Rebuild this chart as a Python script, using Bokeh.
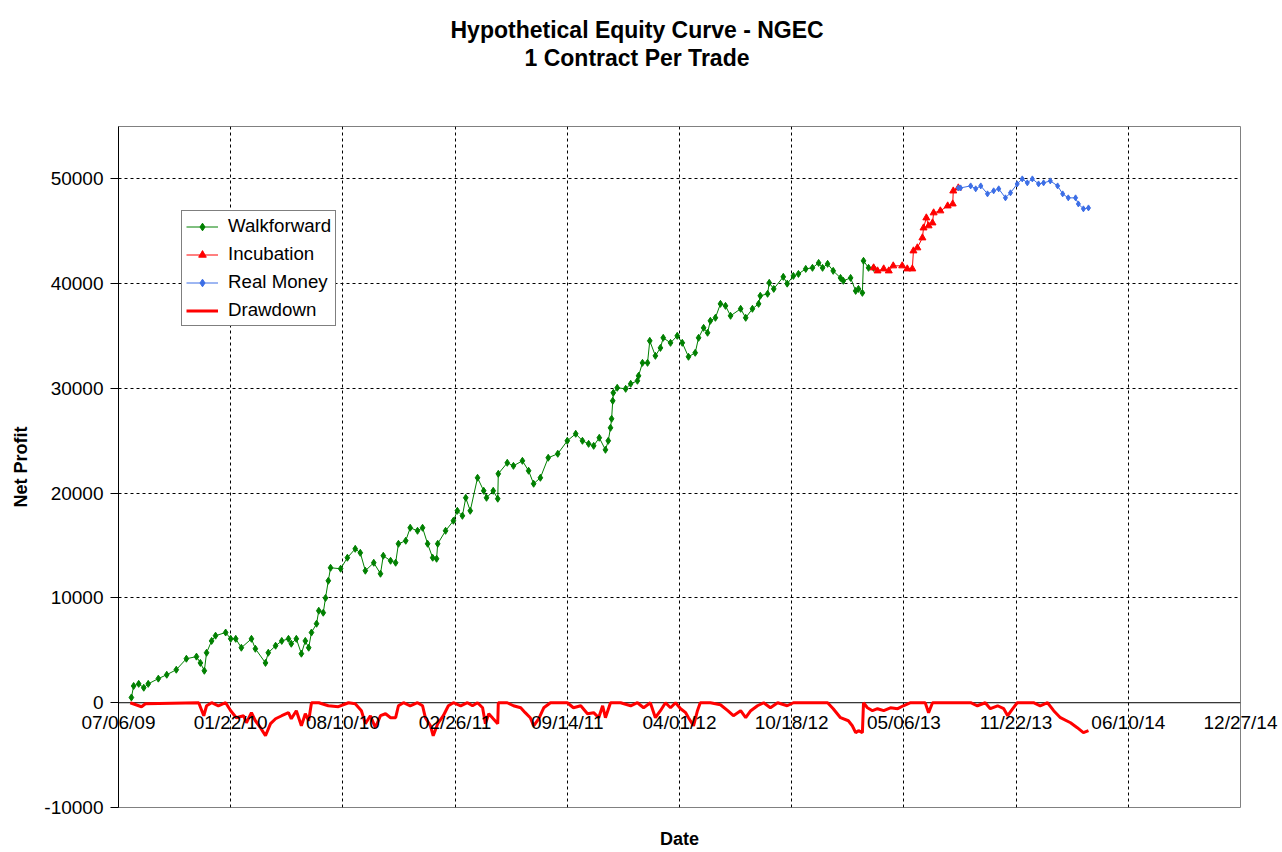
import pandas as pd
from bokeh.plotting import figure
from bokeh.models import (Range1d, FixedTicker, Span, Legend, LegendItem, Title,
                          LinearAxis, BasicTickFormatter, Grid)
from bokeh.embed import file_html
from bokeh.resources import INLINE

FONT = "Liberation Sans"

# ---------------- data ----------------
wf_dates = ["2009-07-29", "2009-08-02", "2009-08-11", "2009-08-20", "2009-08-28", "2009-09-15",
            "2009-09-30", "2009-10-17", "2009-11-04", "2009-11-22", "2009-11-29", "2009-12-06",
            "2009-12-10", "2009-12-19", "2009-12-26", "2010-01-13", "2010-01-22", "2010-01-31",
            "2010-02-10", "2010-02-28", "2010-03-07", "2010-03-25", "2010-03-30", "2010-04-12",
            "2010-04-23", "2010-05-05", "2010-05-10", "2010-05-19", "2010-05-28", "2010-06-04",
            "2010-06-10", "2010-06-15", "2010-06-24", "2010-06-28", "2010-07-06", "2010-07-10",
            "2010-07-15", "2010-07-19", "2010-08-06", "2010-08-18", "2010-09-01", "2010-09-10",
            "2010-09-19", "2010-10-04", "2010-10-16", "2010-10-21", "2010-11-03", "2010-11-12",
            "2010-11-17", "2010-11-30", "2010-12-08", "2010-12-21", "2010-12-30", "2011-01-08",
            "2011-01-17", "2011-01-24", "2011-01-26", "2011-02-09", "2011-02-23", "2011-03-02",
            "2011-03-11", "2011-03-17", "2011-03-25", "2011-04-07", "2011-04-18", "2011-04-23",
            "2011-05-05", "2011-05-13", "2011-05-14", "2011-05-30", "2011-06-10", "2011-06-26",
            "2011-07-07", "2011-07-16", "2011-07-28", "2011-08-11", "2011-08-28", "2011-09-14",
            "2011-09-29", "2011-10-11", "2011-10-22", "2011-10-31", "2011-11-10", "2011-11-21",
            "2011-11-26", "2011-11-30", "2011-12-02", "2011-12-04", "2011-12-05", "2011-12-12",
            "2011-12-27", "2012-01-05", "2012-01-17", "2012-01-19", "2012-01-26", "2012-02-04",
            "2012-02-08", "2012-02-18", "2012-02-27", "2012-03-03", "2012-03-16", "2012-03-28",
            "2012-04-06", "2012-04-17", "2012-04-29", "2012-05-05", "2012-05-14", "2012-05-21",
            "2012-05-26", "2012-06-04", "2012-06-13", "2012-06-22", "2012-07-01", "2012-07-19",
            "2012-07-28", "2012-08-09", "2012-08-20", "2012-08-23", "2012-09-05", "2012-09-08",
            "2012-09-16", "2012-10-03", "2012-10-10", "2012-10-21", "2012-10-30", "2012-11-12",
            "2012-11-24", "2012-12-05", "2012-12-12", "2012-12-21", "2012-12-31", "2013-01-13",
            "2013-01-18", "2013-01-31", "2013-02-09", "2013-02-14", "2013-02-21", "2013-02-23",
            "2013-03-04", "2013-03-13"]
wf_values = [500, 1600, 1800, 1430, 1800, 2300,
             2670, 3150, 4200, 4400, 3800, 3050,
             4770, 5900, 6400, 6700, 6100, 6100,
             5250, 6100, 5150, 3800, 4770, 5440,
             5900, 6100, 5630, 6100, 4680, 5900,
             5250, 6700, 7540, 8780, 8590, 10000,
             11640, 12880, 12790, 13840, 14690, 14310,
             12600, 13360, 12310, 14030, 13550, 13360,
             15170, 15460, 16700, 16410, 16700, 15170,
             13840, 13740, 15170, 16410, 17370, 18320,
             17840, 19560, 18320, 21470, 20230, 19560,
             20230, 19470, 21850, 22900, 22610, 23090,
             22140, 20900, 21470, 23380, 23760, 25000,
             25670, 25000, 24710, 24520, 25290, 24140,
             25000, 26240, 27100, 28820, 29580, 30060,
             29960, 30440, 30730, 31200, 32440, 32440,
             34540, 33110, 33870, 34830, 34350, 35020,
             34350, 33020, 33400, 34830, 35780, 35310,
             36450, 36740, 38070, 37880, 36930, 37600,
             36740, 37600, 38070, 38840, 39030, 40080,
             39500, 40650, 40000, 40740, 40930, 41410,
             41510, 41980, 41510, 41890, 41220, 40550,
             40270, 40550, 39310, 39500, 39120, 42180,
             41510, 41510]

inc_dates = ["2013-03-13", "2013-03-20", "2013-03-31", "2013-04-09", "2013-04-17", "2013-05-03",
             "2013-05-12", "2013-05-21", "2013-05-23", "2013-05-30", "2013-06-08", "2013-06-10",
             "2013-06-15", "2013-06-19", "2013-06-26", "2013-06-28", "2013-07-10", "2013-07-23",
             "2013-08-01", "2013-08-02", "2013-08-11"]
inc_values = [41510, 41220, 41410, 41220, 41700, 41700,
              41410, 41410, 43130, 43420, 44370, 45320,
              46280, 45520, 45800, 46760, 46950, 47420,
              47610, 48850, 49140]

rm_dates = ["2013-08-11", "2013-08-15", "2013-09-02", "2013-09-11", "2013-09-20", "2013-10-02",
            "2013-10-13", "2013-10-22", "2013-11-03", "2013-11-12", "2013-11-24", "2013-12-03",
            "2013-12-12", "2013-12-21", "2014-01-01", "2014-01-10", "2014-01-22", "2014-02-04",
            "2014-02-13", "2014-02-23", "2014-03-08", "2014-03-13", "2014-03-22", "2014-03-31"]
rm_values = [49140, 49140, 49330, 49050, 49330, 48570,
             48860, 49050, 48190, 48670, 49520, 50000,
             49620, 50000, 49520, 49620, 49810, 49330,
             48570, 48190, 48190, 47610, 47140, 47230]

dd_dates = ["2009-07-27", "2009-08-16", "2009-08-23", "2009-11-26", "2009-12-05", "2009-12-10",
            "2009-12-19", "2009-12-31", "2010-01-13", "2010-01-22", "2010-02-01", "2010-02-14",
            "2010-02-19", "2010-02-28", "2010-03-07", "2010-03-16", "2010-03-25", "2010-04-03",
            "2010-04-12", "2010-04-23", "2010-05-05", "2010-05-10", "2010-05-19", "2010-05-28",
            "2010-06-04", "2010-06-10", "2010-06-15", "2010-06-28", "2010-07-15", "2010-08-02",
            "2010-08-20", "2010-09-01", "2010-09-12", "2010-09-19", "2010-09-28", "2010-10-07",
            "2010-10-16", "2010-10-25", "2010-11-03", "2010-11-12", "2010-11-17", "2010-11-26",
            "2010-12-08", "2010-12-21", "2010-12-30", "2011-01-04", "2011-01-13", "2011-01-18",
            "2011-01-26", "2011-02-05", "2011-02-14", "2011-02-23", "2011-03-08", "2011-03-20",
            "2011-03-29", "2011-04-07", "2011-04-16", "2011-04-21", "2011-04-27", "2011-05-05",
            "2011-05-13", "2011-05-14", "2011-05-30", "2011-06-10", "2011-06-23", "2011-07-01",
            "2011-07-10", "2011-07-16", "2011-07-25", "2011-08-03", "2011-08-15", "2011-09-02",
            "2011-09-14", "2011-09-25", "2011-10-08", "2011-10-20", "2011-10-31", "2011-11-09",
            "2011-11-16", "2011-11-21", "2011-11-30", "2011-12-18", "2012-01-05", "2012-01-17",
            "2012-01-28", "2012-02-09", "2012-02-18", "2012-02-27", "2012-03-07", "2012-03-16",
            "2012-03-25", "2012-04-03", "2012-04-12", "2012-04-17", "2012-04-26", "2012-05-03",
            "2012-05-08", "2012-05-26", "2012-06-13", "2012-06-26", "2012-07-06", "2012-07-19",
            "2012-07-28", "2012-08-06", "2012-08-18", "2012-08-29", "2012-09-10", "2012-09-23",
            "2012-10-10", "2012-10-21", "2012-11-15", "2012-12-03", "2012-12-21", "2012-12-31",
            "2013-01-13", "2013-01-27", "2013-02-03", "2013-02-09", "2013-02-14", "2013-02-21",
            "2013-02-23", "2013-03-02", "2013-03-11", "2013-03-20", "2013-03-31", "2013-04-12",
            "2013-04-25", "2013-05-05", "2013-05-18", "2013-05-30", "2013-06-13", "2013-06-19",
            "2013-06-26", "2013-07-23", "2013-08-15", "2013-09-02", "2013-09-14", "2013-09-28",
            "2013-10-07", "2013-10-20", "2013-10-31", "2013-11-07", "2013-11-16", "2013-11-24",
            "2013-12-05", "2013-12-23", "2014-01-04", "2014-01-17", "2014-01-28", "2014-02-09",
            "2014-02-27", "2014-03-11", "2014-03-22", "2014-03-31"]
dd_values = [0, -380, -100, 0, -1240, -290,
             0, -290, 0, -760, -1430, -1240,
             -1910, -950, -1720, -2380, -3150, -2000,
             -1530, -1240, -950, -1530, -760, -2200,
             -1050, -1720, 0, 0, -290, -380,
             0, -100, -760, -2000, -1240, -2380,
             -1240, -1050, -1430, -1430, -290, 0,
             -290, 0, -290, -1430, -2200, -3150,
             -2000, -1240, -290, 0, -290, 0,
             -290, 0, -480, -2000, -1050, -1530,
             -2000, 0, 0, -290, -480, -950,
             -1430, -2200, -1530, -480, 0, 0,
             0, -480, -290, -1050, -950, -1430,
             -290, -1430, 0, 0, -290, 0,
             -480, 0, -1430, -760, 0, -480,
             0, -570, -950, -1430, -2200, -760,
             0, 0, -190, -760, -1240, -760,
             -1430, -760, -290, 0, -480, 0,
             -290, 0, 0, 0, 0, -570,
             -1430, -1720, -2200, -2860, -2670, -2860,
             0, -480, -760, -570, -760, -480,
             -570, -290, 0, 0, 0, -950,
             0, 0, 0, 0, -290, 0,
             -570, -290, -570, -1240, -570, 0,
             0, 0, -290, 0, -760, -1430,
             -1910, -2380, -2860, -2670]

tick_dates = ["2009-07-06", "2010-01-22", "2010-08-10", "2011-02-26", "2011-09-14", "2012-04-01",
              "2012-10-18", "2013-05-06", "2013-11-22", "2014-06-10", "2014-12-27"]
tick_labels = ["07/06/09", "01/22/10", "08/10/10", "02/26/11", "09/14/11", "04/01/12",
               "10/18/12", "05/06/13", "11/22/13", "06/10/14", "12/27/14"]
y_ticks = [-10000, 0, 10000, 20000, 30000, 40000, 50000]
y_tick_labels = ["-10000", "0", "10000", "20000", "30000", "40000", "50000"]
y_grid_ticks = [10000, 20000, 30000, 40000, 50000]

# ---------------- figure ----------------
tick_dt = pd.to_datetime(tick_dates)
tick_ms = [t.value // 10**6 for t in tick_dt]

p = figure(width=1282, height=852, x_axis_type="datetime", x_axis_location=None,
           x_range=Range1d(tick_dt[0], tick_dt[-1]), y_range=Range1d(-10000, 55000),
           output_backend="svg", toolbar_location=None,
           min_border_left=118, min_border_right=42, min_border_top=126, min_border_bottom=45,
           background_fill_color="white", border_fill_color="white")
p.outline_line_color = "#808080"
p.outline_line_width = 1
for g in p.xgrid:
    g.visible = False

# date axis: its labels are pulled up so that they hang just below the y = 0 line
xa = LinearAxis(ticker=FixedTicker(ticks=tick_ms),
                major_label_overrides={ms: lab for ms, lab in zip(tick_ms, tick_labels)})
xa.axis_line_color = None
xa.major_tick_line_color = None
xa.major_tick_out = 0
xa.major_tick_in = 0
xa.minor_tick_line_color = None
xa.major_label_standoff = -96
xa.major_label_text_font = FONT
xa.major_label_text_font_size = "19px"
xa.major_label_text_color = "black"
xa.axis_label = "Date"
xa.axis_label_standoff = 93
xa.axis_label_text_font = FONT
xa.axis_label_text_font_size = "18px"
xa.axis_label_text_font_style = "bold"
xa.axis_label_text_color = "black"
p.add_layout(xa, "below")

# titles (a thin spacer keeps the two title lines at the top of the page)
p.add_layout(Title(text=" ", text_font_size="1px", standoff=53), "above")
p.add_layout(Title(text="1 Contract Per Trade", align="left", offset=406, standoff=0,
                   text_font=FONT, text_font_size="23px", text_font_style="bold",
                   text_color="black"), "above")
p.title.text = "Hypothetical Equity Curve - NGEC"
p.title.align = "left"
p.title.offset = 332
p.title.standoff = 0
p.title.text_font = FONT
p.title.text_font_size = "23px"
p.title.text_font_style = "bold"
p.title.text_color = "black"

# y axis
ya = p.yaxis[0]
ya.ticker = FixedTicker(ticks=y_ticks)
ya.formatter = BasicTickFormatter(use_scientific=False)
ya.major_label_overrides = {t: lab for t, lab in zip(y_ticks, y_tick_labels)}
ya.axis_line_color = "black"
ya.major_tick_line_color = "black"
ya.major_tick_out = 8
ya.major_tick_in = 0
ya.minor_tick_line_color = None
ya.major_label_standoff = 7
ya.major_label_text_font = FONT
ya.major_label_text_font_size = "19px"
ya.major_label_text_color = "black"
ya.axis_label = "Net Profit"
ya.axis_label_text_font = FONT
ya.axis_label_text_font_size = "18px"
ya.axis_label_text_font_style = "bold"
ya.axis_label_text_color = "black"
ya.axis_label_standoff = 10

# grids
p.ygrid.ticker = FixedTicker(ticks=y_grid_ticks)
p.ygrid.grid_line_color = "black"
p.ygrid.grid_line_dash = "3 3"
p.ygrid.grid_line_alpha = 1.0
p.add_layout(Grid(dimension=0, ticker=FixedTicker(ticks=tick_ms[1:-1]),
                  grid_line_color="black", grid_line_dash="3 3"))

# zero line
p.add_layout(Span(location=0, dimension="width", line_color="black", line_width=1, level="underlay"))

# series
GREEN = "#008000"
RED = "#FF0000"
BLUE = "#3C6EE6"

dd_line = p.line(pd.to_datetime(dd_dates), dd_values, line_color=RED, line_width=3)

wf_x = pd.to_datetime(wf_dates)
wf_line = p.line(wf_x, wf_values, line_color=GREEN, line_width=1)
wf_pts = p.scatter(wf_x, wf_values, marker="diamond", size=7, fill_color=GREEN, line_color=GREEN)

inc_x = pd.to_datetime(inc_dates)
inc_line = p.line(inc_x, inc_values, line_color=RED, line_width=1)
inc_pts = p.scatter(inc_x, inc_values, marker="triangle", size=7, fill_color=RED, line_color=RED)

rm_x = pd.to_datetime(rm_dates)
rm_line = p.line(rm_x, rm_values, line_color=BLUE, line_width=1)
rm_pts = p.scatter(rm_x, rm_values, marker="diamond", size=6, fill_color=BLUE, line_color=BLUE)

legend = Legend(items=[
    LegendItem(label="Walkforward", renderers=[wf_line, wf_pts]),
    LegendItem(label="Incubation", renderers=[inc_line, inc_pts]),
    LegendItem(label="Real Money", renderers=[rm_line, rm_pts]),
    LegendItem(label="Drawdown", renderers=[dd_line]),
], location=(63, 481))
legend.label_text_font = FONT
legend.label_text_font_size = "18.7px"
legend.label_text_color = "black"
legend.border_line_color = "black"
legend.border_line_width = 1
legend.background_fill_color = "white"
legend.background_fill_alpha = 1.0
legend.padding = 4
legend.spacing = 6
legend.margin = 0
legend.glyph_width = 32
legend.glyph_height = 19
legend.label_height = 19
legend.label_standoff = 10
p.add_layout(legend)

open("out.html", "w").write(file_html(p, INLINE))
